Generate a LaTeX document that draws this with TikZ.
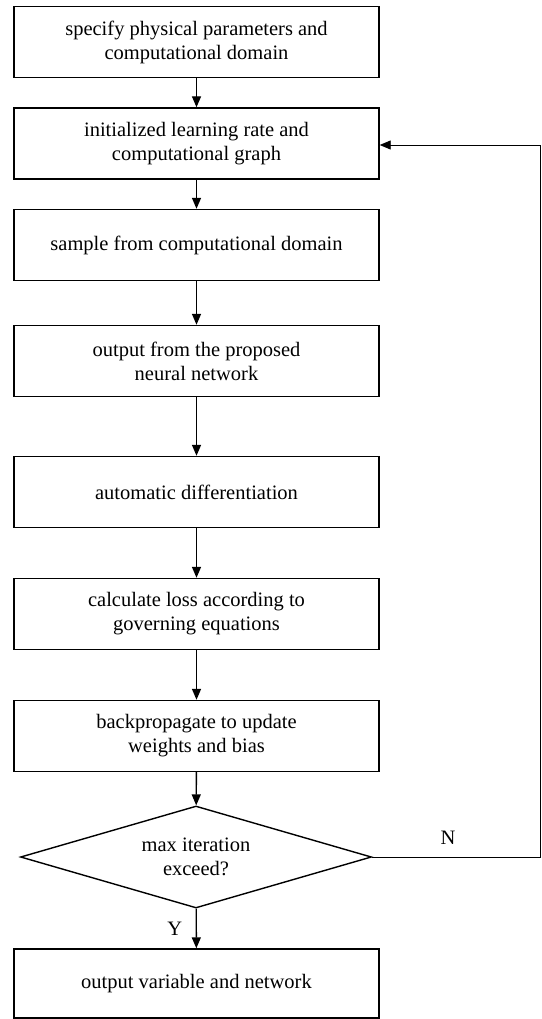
\documentclass[tikz,border=0pt]{standalone}
\usepackage{fontspec}
\setmainfont{Liberation Serif}
\usetikzlibrary{shapes.geometric,arrows.meta}
\begin{document}
\begin{tikzpicture}[x=1pt,y=-1pt]
    % Node styles
    \tikzset{proc box/.style={draw,line width=1.4pt,minimum width=365pt,minimum height=71pt,
                              align=center,font=\fontsize{20.5}{24}\selectfont,inner sep=0pt},
             decision/.style={draw,diamond,line width=1.4pt,minimum width=351pt,minimum height=102pt,
                              aspect=3.44,align=center,font=\fontsize{20.5}{24}\selectfont,inner sep=0pt},
             flow/.style={line width=1.4pt,-{Triangle[length=11pt,width=9pt]}}}
    \useasboundingbox (0,0) rectangle (541,1019);

    % --- Setup steps ---
    \node[proc box] (spec) at (196.5,42) {specify physical parameters and\\computational domain};
    \node[proc box] (init) at (196.5,143.5) {initialized learning rate and\\computational graph};

    % --- Training loop ---
    \node[proc box] (sample) at (196.5,245) {sample from computational domain};
    \node[proc box] (nnout) at (196.5,361) {output from the proposed\\neural network};
    \node[proc box] (autodiff) at (196.5,492) {automatic differentiation};
    \node[proc box] (loss) at (196.5,614) {calculate loss according to\\governing equations};
    \node[proc box] (backprop) at (196.5,736) {backpropagate to update\\weights and bias};

    % --- Check ---
    \node[decision] (check) at (196,857) {max iteration\\exceed?};
    \node[proc box,minimum height=69pt] (result) at (196.5,983.5) {output variable and network};

    % Edges down the chart
    \draw[flow] (spec) -- (init);
    \draw[flow] (init) -- (sample);
    \draw[flow] (sample) -- (nnout);
    \draw[flow] (nnout) -- (autodiff);
    \draw[flow] (autodiff) -- (loss);
    \draw[flow] (loss) -- (backprop);
    \draw[flow] (backprop) -- (check);
    \draw[flow] (check) -- (result) node[pos=0.5, left=10pt, font=\fontsize{20.5}{24}\selectfont] {Y};

    % Loop back
    \coordinate (cornerlow) at (540,857);
    \coordinate (cornerhigh) at (540,145);
    \draw[line width=0.9pt,-{Triangle[length=11pt,width=9pt]}] (check.east) -- (cornerlow) -- (cornerhigh) -- (init.east |- cornerhigh);
    \node[font=\fontsize{20.5}{24}\selectfont] at (448,838) {N};
\end{tikzpicture}
\end{document}
